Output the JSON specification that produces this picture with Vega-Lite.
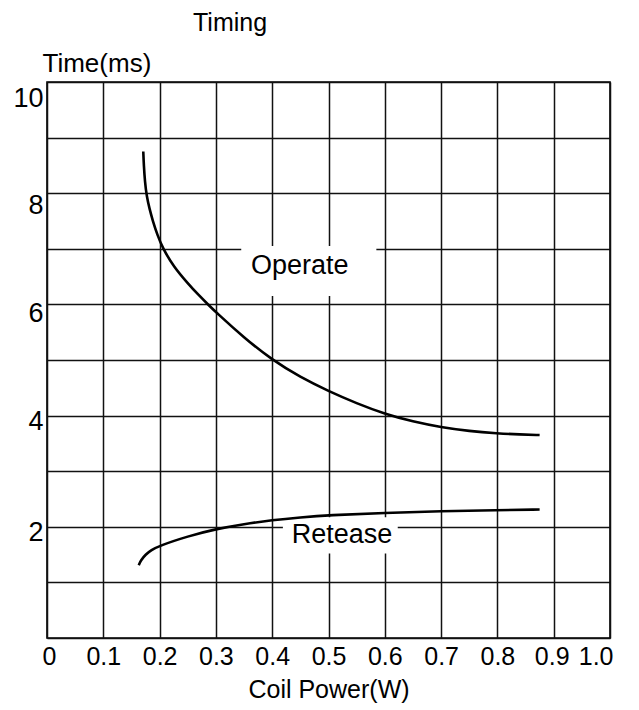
{
  "$schema": "https://vega.github.io/schema/vega-lite/v6.json",
  "width": 563,
  "height": 556,
  "autosize": "none",
  "padding": {"left": 47, "top": 82, "right": 29, "bottom": 72},
  "background": "white",
  "title": {
    "text": "Timing",
    "anchor": "start",
    "frame": "group",
    "dx": 146,
    "offset": 14,
    "fontSize": 25,
    "fontWeight": "normal",
    "font": "Liberation Sans",
    "color": "black"
  },
  "config": {
    "view": {"stroke": "black", "strokeWidth": 1.6},
    "axis": {
      "grid": true,
      "gridColor": "#111111",
      "gridWidth": 1.5,
      "gridOpacity": 1,
      "domain": false,
      "ticks": false,
      "labelOverlap": false,
      "labelFont": "Liberation Sans",
      "labelColor": "black",
      "labelFontSize": 27,
      "titleFont": "Liberation Sans",
      "titleColor": "black",
      "titleFontWeight": "normal",
      "titleFontSize": 25
    }
  },
  "datasets": {
    "curves": [
      {"series": "Operate", "power": 0.171, "time": 8.75},
      {"series": "Operate", "power": 0.172, "time": 8.5},
      {"series": "Operate", "power": 0.174, "time": 8.2},
      {"series": "Operate", "power": 0.177, "time": 7.95},
      {"series": "Operate", "power": 0.182, "time": 7.72},
      {"series": "Operate", "power": 0.188, "time": 7.5},
      {"series": "Operate", "power": 0.196, "time": 7.25},
      {"series": "Operate", "power": 0.206, "time": 7.0},
      {"series": "Operate", "power": 0.225, "time": 6.68},
      {"series": "Operate", "power": 0.25, "time": 6.38},
      {"series": "Operate", "power": 0.27, "time": 6.16},
      {"series": "Operate", "power": 0.286, "time": 6.0},
      {"series": "Operate", "power": 0.3, "time": 5.86},
      {"series": "Operate", "power": 0.35, "time": 5.4},
      {"series": "Operate", "power": 0.4, "time": 5.0},
      {"series": "Operate", "power": 0.45, "time": 4.69},
      {"series": "Operate", "power": 0.5, "time": 4.44},
      {"series": "Operate", "power": 0.55, "time": 4.22},
      {"series": "Operate", "power": 0.6, "time": 4.03},
      {"series": "Operate", "power": 0.65, "time": 3.89},
      {"series": "Operate", "power": 0.7, "time": 3.79},
      {"series": "Operate", "power": 0.75, "time": 3.72},
      {"series": "Operate", "power": 0.8, "time": 3.68},
      {"series": "Operate", "power": 0.84, "time": 3.66},
      {"series": "Operate", "power": 0.875, "time": 3.65},
      {"series": "Retease", "power": 0.163, "time": 1.31},
      {"series": "Retease", "power": 0.167, "time": 1.4},
      {"series": "Retease", "power": 0.175, "time": 1.5},
      {"series": "Retease", "power": 0.185, "time": 1.58},
      {"series": "Retease", "power": 0.2, "time": 1.66},
      {"series": "Retease", "power": 0.25, "time": 1.83},
      {"series": "Retease", "power": 0.3, "time": 1.96},
      {"series": "Retease", "power": 0.35, "time": 2.05},
      {"series": "Retease", "power": 0.4, "time": 2.12},
      {"series": "Retease", "power": 0.45, "time": 2.17},
      {"series": "Retease", "power": 0.5, "time": 2.21},
      {"series": "Retease", "power": 0.6, "time": 2.25},
      {"series": "Retease", "power": 0.7, "time": 2.28},
      {"series": "Retease", "power": 0.8, "time": 2.3},
      {"series": "Retease", "power": 0.875, "time": 2.31}
    ],
    "labels": [
      {"label": "Operate", "power": 0.449, "time": 6.69, "p0": 0.345, "p1": 0.585, "t0": 6.15, "t1": 7.05},
      {"label": "Retease", "power": 0.524, "time": 1.85, "p0": 0.419, "p1": 0.623, "t0": 1.52, "t1": 2.17}
    ]
  },
  "layer": [
    {
      "data": {"name": "labels"},
      "mark": {"type": "rect", "fill": "white", "stroke": null},
      "encoding": {
        "x": {
          "field": "p0", "type": "quantitative",
          "scale": {"domain": [0, 1], "nice": false, "zero": false},
          "axis": {
            "values": [0, 0.1, 0.2, 0.3, 0.4, 0.5, 0.6, 0.7, 0.8, 0.9, 1.0],
            "labelExpr": "datum.value == 0 ? '0' : format(datum.value, '.1f')",
            "labelPadding": 6,
            "labelFontSize": 25,
            "labelOverlap": false,
            "labelOffset": {
              "condition": [
                {"test": "datum.value == 0", "value": -5},
                {"test": "datum.value == 0.9", "value": -2},
                {"test": "datum.value == 1", "value": 3}
              ],
              "value": 0
            },
            "title": "Coil Power(W)",
            "titlePadding": 8
          }
        },
        "x2": {"field": "p1"},
        "y": {
          "field": "t0", "type": "quantitative",
          "scale": {"domain": [0, 10], "nice": false, "zero": false},
          "axis": {
            "values": [0, 1, 2, 3, 4, 5, 6, 7, 8, 9, 10],
            "labelExpr": "datum.value > 0 && datum.value % 2 == 0 ? datum.label : ''",
            "labelPadding": 4,
            "labelBaseline": "middle",
            "labelOverlap": false,
            "labelOffset": {
              "condition": [
                {"test": "datum.value == 10", "value": 16},
                {"test": "datum.value == 8", "value": 12},
                {"test": "datum.value == 6", "value": 9}
              ],
              "value": 6
            },
            "title": "Time(ms)",
            "titleAngle": 0,
            "titleAlign": "left",
            "titleBaseline": "middle",
            "titleX": -5,
            "titleY": -19,
            "titleFontSize": 26
          }
        },
        "y2": {"field": "t1"}
      }
    },
    {
      "data": {"name": "curves"},
      "mark": {"type": "line", "color": "black", "strokeWidth": 2.6, "interpolate": "basis"},
      "encoding": {
        "x": {"field": "power", "type": "quantitative", "scale": {"domain": [0, 1], "nice": false, "zero": false}},
        "y": {"field": "time", "type": "quantitative", "scale": {"domain": [0, 10], "nice": false, "zero": false}},
        "detail": {"field": "series"}
      }
    },
    {
      "data": {"name": "labels"},
      "mark": {"type": "text", "font": "Liberation Sans", "fontSize": 27, "color": "black", "align": "center", "baseline": "middle"},
      "encoding": {
        "x": {"field": "power", "type": "quantitative", "scale": {"domain": [0, 1], "nice": false, "zero": false}},
        "y": {"field": "time", "type": "quantitative", "scale": {"domain": [0, 10], "nice": false, "zero": false}},
        "text": {"field": "label"}
      }
    }
  ]
}
